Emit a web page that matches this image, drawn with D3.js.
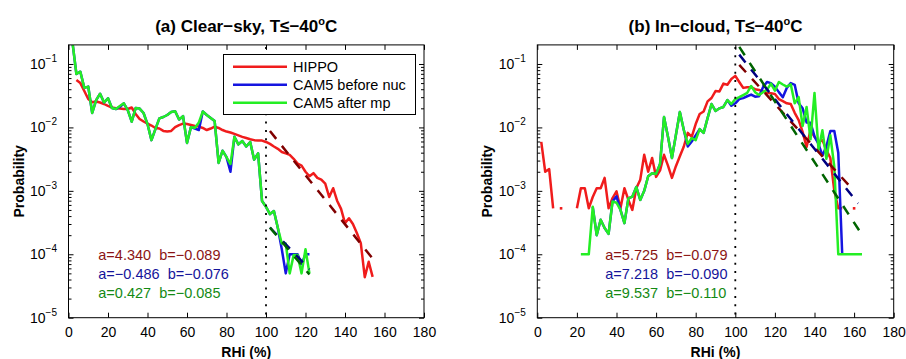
<!DOCTYPE html>
<html>
<head>
<meta charset="utf-8">
<script src="https://cdn.jsdelivr.net/npm/d3@7"></script>
<style>
  body { margin: 0; background: #fff; }
  text { font-family: "Liberation Sans", Arial, Helvetica, sans-serif; }
</style>
</head>
<body>
<div id="chart"></div>
<script>
// ---- data (probability per 2% RHi bin) ----
const leftRHi = [2,4,6,8,10,12,14,16,18,20,22,24,26,28,30,32,34,36,38,40,42,44,46,48,50,52,54,56,58,60,
  62,64,66,68,70,72,74,76,78,80,82,84,86,88,90,92,94,96,98,100,102,104,106,108,110,112,114,116,118,120,
  122,124,126,128,130,132,134,136,138,140,142,144,146,148,150,152,154]

const leftHippo = [null,0.056,0.050,0.0375,0.028,0.025,0.0256,0.0247,0.0234,0.0218,
  0.0206,0.020,0.0199,0.0195,0.0195,0.0206,0.0163,0.0136,0.0124,0.0115,
  0.0107,0.0098,0.0096,0.0088,0.0086,0.0088,0.0101,0.0109,0.0115,0.0113,
  0.0109,0.0105,0.0103,0.0098,0.0091,0.0096,0.0103,0.0098,0.0091,0.0086,
  0.0083,0.0079,0.0075,0.0071,0.0068,0.0065,0.0063,0.0062,0.0062,0.0059,
  0.0055,0.0050,0.0046,0.0041,0.0039,0.0037,0.0032,0.0027,0.0025,0.0020,
  0.0017,0.0019,0.0016,0.0015,0.0013,0.0008,0.0011,0.0007,0.00052,0.00031,
  0.00037,0.0003,0.000216,0.00015,0.0000436,0.000076,0.000044]

const leftBefore = [0.22,0.0695,0.0756,0.042,0.044,0.0169,0.027,0.034,0.0247,0.0288,
  0.0202,0.0195,0.021,0.024,0.0188,0.0123,0.0202,0.0198,0.0169,0.0113,
  0.0063,0.0094,0.0139,0.0146,0.0157,0.0175,0.018,0.0133,0.0151,0.0057,
  0.0101,0.0096,0.0091,0.0178,0.0157,0.0141,0.0126,0.00275,0.0043,0.0034,
  0.002,0.0071,0.0054,0.0061,0.005,0.0059,0.0031,0.0039,0.00069,0.00056,
  0.00043,0.00048,0.00026,0.00012,0.00005,0.0001,0.0001,0.0001,0.00007,0.0001,
  0.0001,null,null,null,null,null,null,null,null,null,null,null,null,null,null,null,null]

const leftAfter = [0.22,0.0695,0.0756,0.042,0.044,0.0169,0.027,0.034,0.0247,0.0288,
  0.0202,0.0195,0.0218,0.024,0.0188,0.0123,0.0202,0.0198,0.0169,0.0113,
  0.0063,0.0094,0.0139,0.0146,0.0157,0.0175,0.018,0.0133,0.0151,0.0057,
  0.0101,0.0099,0.012,0.0178,0.0157,0.0141,0.0126,0.00275,0.0043,0.0034,
  0.00265,0.0071,0.0054,0.0061,0.005,0.0059,0.0031,0.0039,0.00069,0.00056,
  0.00043,0.00048,0.00026,0.000148,0.000148,0.00005,0.000097,0.000097,0.00005,0.00012,
  0.00005,null,null,null,null,null,null,null,null,null,null,null,null,null,null,null,null]

const rightRHi = [2,4,6,8,10,12,14,16,18,20,22,24,26,28,30,32,34,36,38,40,42,44,46,48,50,52,54,56,58,60,
  62,64,66,68,70,72,74,76,78,80,82,84,86,88,90,92,94,96,98,100,102,104,106,108,110,112,114,116,118,120,
  122,124,126,128,130,132,134,136,138,140,142,144,146,148,150,152,154,156,158,160,162,164]

const rightHippo = [0.0059,0.002,0.0022,0.00053,null,0.00053,null,null,null,0.00053,
  0.0011,0.0011,0.00053,0.0008,0.0011,0.0011,0.0016,0.00053,0.00077,0.00098,
  0.00053,0.0011,0.00072,0.0005,0.0011,0.0015,0.0037,0.002,0.0033,0.00166,
  0.0021,0.0037,0.0025,0.0016,0.00245,0.0035,0.005,0.0082,0.0071,0.0113,
  0.0163,0.0178,0.0257,0.0291,0.0375,0.037,0.049,0.047,0.058,0.065,
  0.052,0.042,0.043,0.043,0.040,0.039,0.037,0.035,0.0345,0.0337,
  0.028,0.026,0.024,0.0234,0.017,0.013,0.0085,0.0049,0.0091,0.0071,
  0.0059,0.0063,0.0044,0.0033,0.001,0.00053,0.00053,null,null,0.00053,
  null,null]

const rightBefore = [null,null,null,null,null,null,null,null,null,null,null,null,null,
  0.00056,0.0002,0.00035,0.00026,0.00021,0.00068,0.00082,
  0.0005,0.00031,0.00076,0.00081,0.00115,0.00072,0.001,0.0017,0.0019,0.00185,
  0.00265,0.0146,0.0071,0.0033,0.0076,0.0175,0.0091,0.005,0.006,0.0075,
  0.0094,0.0082,0.014,0.0234,0.0182,0.020,0.021,0.027,0.022,0.024,
  0.028,0.029,0.031,0.033,0.0305,0.031,0.043,0.052,0.05,0.044,
  0.036,0.03,0.042,0.05,0.047,0.024,0.02,0.012,0.0118,0.0072,
  0.0055,0.0036,0.005,0.0088,0.0088,0.004,0.0001,null,null,null,
  null,null]

const rightAfter = [null,null,null,null,null,null,null,null,null,null,
  0.0001,0.0001,0.0001,0.00056,0.0002,0.00035,0.00026,0.00021,0.00068,0.00065,
  0.0005,0.00031,0.00076,0.00081,0.00115,0.00072,0.001,0.0017,0.0019,0.00185,
  0.00265,0.0146,0.0071,0.0033,0.0076,0.0175,0.0091,0.0055,0.0068,0.0063,
  0.0094,0.0082,0.014,0.0234,0.0182,0.020,0.021,0.027,0.0234,0.028,
  0.030,0.0324,0.035,0.045,0.036,0.0324,0.036,0.039,0.049,0.038,
  0.052,0.0475,0.044,0.048,0.024,0.030,0.0105,0.021,0.0065,0.035,
  0.0045,0.009,0.0032,0.0075,0.0024,0.0001,0.0001,0.0001,0.0001,0.0001,
  0.0001,0.0001]

// exponential fits P = exp(a + b*RHi), drawn from fitStart to fitEnd
const leftFitA = [4.340, -0.486, 0.427]
const leftFitB = [-0.089, -0.076, -0.085]
const leftFitEnd = [154, 122, 122]
const rightFitA = [5.725, 7.218, 9.537]
const rightFitB = [-0.079, -0.090, -0.110]
const rightFitEnd = [158, 162, 164]
const fitStart = 102

const seriesNames = ["HIPPO", "CAM5 before nuc", "CAM5 after mp"]
const xTicks = [0, 20, 40, 60, 80, 100, 120, 140, 160, 180]
const yTicks = [1e-5, 1e-4, 1e-3, 1e-2, 1e-1]
const yTickExp = ["\u22125", "\u22124", "\u22123", "\u22122", "\u22121"]

// ---- style ----
const lineColors = ["#f01c1c", "#1515e0", "#24ee24"]
const fitColors = ["#800000", "#000080", "#006400"]
const textColors = ["#8b1414", "#14149a", "#148a14"]
const plotTop = 44.9, plotBottom = 317.7

const svg = d3.select("#chart").append("svg")
    .attr("width", 906)
    .attr("height", 359)

function drawPanel(id, x0, x1, title, bins, series, fitA, fitB, fitEnd, legend) {
    const g = svg.append("g")

    const x = d3.scaleLinear().domain([0, 180]).range([x0, x1])
    const y = d3.scaleLog().domain([1e-5, 0.2]).range([plotBottom, plotTop])

    g.append("clipPath").attr("id", "clip" + id)
        .append("rect")
        .attr("x", x0).attr("y", plotTop)
        .attr("width", x1 - x0).attr("height", plotBottom - plotTop)

    const plot = g.append("g").attr("clip-path", `url(#clip${id})`)

    const line = d3.line()
        .defined(d => d[1] != null)
        .x(d => x(d[0]))
        .y(d => y(d[1]))

    series.forEach((vals, i) => {
        const pts = bins.map((b, k) => [b, vals[k]])
        plot.append("path")
            .attr("d", line(pts))
            .attr("fill", "none")
            .attr("stroke", lineColors[i])
            .attr("stroke-width", 2.5)
            .attr("stroke-linejoin", "round")
        // isolated points (neighbours missing)
        pts.filter((p, k) => p[1] != null &&
                (k == 0 || vals[k - 1] == null) && (k == vals.length - 1 || vals[k + 1] == null))
            .forEach(p => {
                plot.append("rect")
                    .attr("x", x(p[0]) - 1.3).attr("y", y(p[1]) - 1.3)
                    .attr("width", 2.6).attr("height", 2.6)
                    .attr("fill", lineColors[i])
            })
    })

    // fitted lines
    fitA.forEach((a, i) => {
        const pts = [fitStart, fitEnd[i]].map(r => [r, Math.exp(a + fitB[i] * r)])
        plot.append("path")
            .attr("d", line(pts))
            .attr("fill", "none")
            .attr("stroke", fitColors[i])
            .attr("stroke-width", 2.5)
            .attr("stroke-dasharray", "10,9")
    })

    // 100% line
    g.append("line")
        .attr("x1", x(100)).attr("x2", x(100))
        .attr("y1", plotTop + 2).attr("y2", plotBottom)
        .attr("stroke", "#000")
        .attr("stroke-width", 1.8)
        .attr("stroke-dasharray", "2,6.3")

    // frame
    g.append("rect")
        .attr("x", x0).attr("y", plotTop)
        .attr("width", x1 - x0).attr("height", plotBottom - plotTop)
        .attr("fill", "none").attr("stroke", "#000").attr("stroke-width", 1)

    /* X axes */
    g.append("g")
        .attr("transform", `translate(0, ${plotBottom})`)
        .call(d3.axisBottom(x).tickValues(xTicks).tickSizeInner(-5).tickSizeOuter(0).tickPadding(9))
        .attr("font-size", 14)
        .call(a => a.select(".domain").remove())
    g.append("g")
        .attr("transform", `translate(0, ${plotTop})`)
        .call(d3.axisTop(x).tickValues(xTicks).tickSizeInner(-5).tickSizeOuter(0).tickFormat(""))
        .call(a => a.select(".domain").remove())

    /* Y axes */
    const minors = []
    yTicks.forEach(t => { for (let m = 2; m <= 9; m++) if (m * t < 0.199) minors.push(m * t) })
    ;[[d3.axisLeft, x0], [d3.axisRight, x1]].forEach(([ax, pos]) => {
        g.append("g").attr("transform", `translate(${pos}, 0)`)
            .call(ax(y).tickValues(yTicks).tickSizeInner(-5).tickSizeOuter(0).tickFormat(""))
            .call(a => a.select(".domain").remove())
        g.append("g").attr("transform", `translate(${pos}, 0)`)
            .call(ax(y).tickValues(minors).tickSizeInner(-3).tickSizeOuter(0).tickFormat(""))
            .call(a => a.select(".domain").remove())
    })

    yTicks.forEach((t, i) => {
        const lab = g.append("text")
            .attr("x", x0 - 11.5)
            .attr("y", y(t) + 5)
            .attr("text-anchor", "end")
            .attr("font-size", 14)
            .text("10")
        lab.append("tspan").attr("dy", -7).attr("font-size", 10).text(yTickExp[i])
    })

    // labels
    g.append("text")
        .attr("x", (x0 + x1) / 2).attr("y", 356.5)
        .attr("text-anchor", "middle")
        .attr("font-size", 14).attr("font-weight", "bold")
        .text("RHi (%)")
    g.append("text")
        .attr("transform", `translate(${x0 - 45}, ${(plotTop + plotBottom) / 2}) rotate(-90)`)
        .attr("text-anchor", "middle")
        .attr("font-size", 14).attr("font-weight", "bold")
        .text("Probability")

    const tt = g.append("text")
        .attr("x", (x0 + x1) / 2).attr("y", 31.5)
        .attr("text-anchor", "middle")
        .attr("font-size", 17).attr("font-weight", "bold")
        .text(title)
    tt.append("tspan").attr("dy", -7).attr("font-size", 11).text("o")
    tt.append("tspan").attr("dy", 7).text("C")

    // fit annotations
    fitA.forEach((a, i) => {
        const fmt = v => v.toFixed(3).replace("-", "\u2212")
        g.append("text")
            .attr("x", x0 + (legend ? 29.8 : 68))
            .attr("y", 260 + i * 19.2)
            .attr("font-size", 14.5)
            .attr("fill", textColors[i])
            .attr("xml:space", "preserve")
            .text(`a=${fmt(a)}  b=${fmt(fitB[i])}`)
    })

    if (legend) {
        const lg = g.append("g")
        lg.append("rect")
            .attr("x", 223.5).attr("y", 54.5)
            .attr("width", 192).attr("height", 60)
            .attr("fill", "#fff").attr("stroke", "#000")
        seriesNames.forEach((n, i) => {
            const ly = 66.7 + i * 18
            lg.append("line")
                .attr("x1", 233).attr("x2", 287)
                .attr("y1", ly).attr("y2", ly)
                .attr("stroke", lineColors[i]).attr("stroke-width", 2.5)
            lg.append("text")
                .attr("x", 293).attr("y", ly + 5.2)
                .attr("font-size", 14.5)
                .text(n)
        })
    }
}

drawPanel("a", 68.5, 424, "(a) Clear\u2212sky, T\u2264\u221240", leftRHi,
    [leftHippo, leftBefore, leftAfter], leftFitA, leftFitB, leftFitEnd, true)
drawPanel("b", 537.3, 893.7, "(b) In\u2212cloud, T\u2264\u221240", rightRHi,
    [rightHippo, rightBefore, rightAfter], rightFitA, rightFitB, rightFitEnd, false)
</script>
</body>
</html>
